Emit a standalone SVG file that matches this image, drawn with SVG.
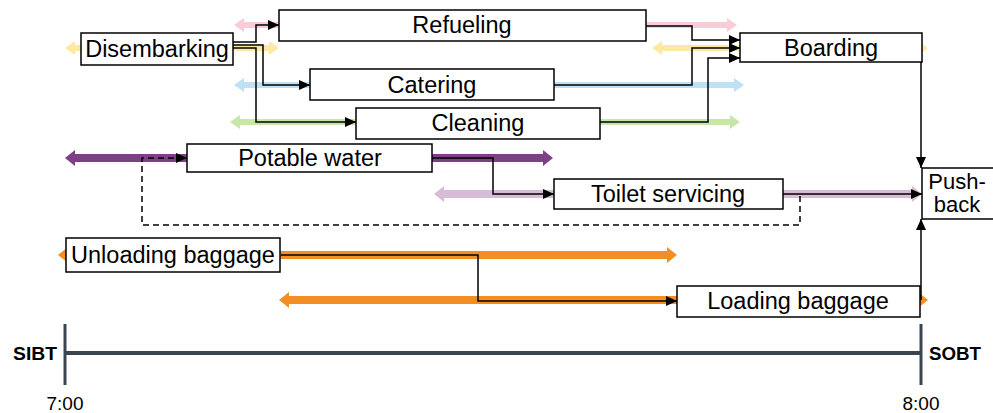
<svg xmlns="http://www.w3.org/2000/svg" width="993" height="413" viewBox="0 0 993 413">
<defs>
<style>
.box{fill:#fff;stroke:#000;stroke-width:1.5}
.lbl{font-family:"Liberation Sans",Arial,sans-serif;font-size:23.5px;fill:#000;text-anchor:middle}
.pb{font-family:"Liberation Sans",Arial,sans-serif;font-size:22px;fill:#000;text-anchor:middle}
.con{fill:none;stroke:#000;stroke-width:1.5;marker-end:url(#ah)}
.dash{fill:none;stroke:#000;stroke-width:1.5;stroke-dasharray:6,4;marker-end:url(#ah)}
.tl{stroke:#3b4550;fill:none}
.tlbl{font-family:"Liberation Sans",Arial,sans-serif;font-size:19px;fill:#000;text-anchor:middle}
</style>
<marker id="ah" markerUnits="userSpaceOnUse" markerWidth="12" markerHeight="10" refX="11" refY="5" orient="auto">
<path d="M0,0 L11,5 L0,10 z" fill="#000"/>
</marker>
</defs>
<rect width="993" height="413" fill="#fff"/>
<g id="bands">
<path fill="#f9cdd8" d="M234,25 L244,18 L244,22 L727,22 L727,18 L737,25 L727,32 L727,28 L244,28 L244,32 z"/>
<path fill="#fde8a4" d="M65,48 L75,41 L75,45 L269,45 L269,41 L279,48 L269,55 L269,51 L75,51 L75,55 z"/>
<path fill="#fde8a4" d="M652,48 L662,41 L662,45 L918,45 L918,41 L928,48 L918,55 L918,51 L662,51 L662,55 z"/>
<path fill="#bfe1f5" d="M234,85 L244,78 L244,82 L734,82 L734,78 L744,85 L734,92 L734,88 L244,88 L244,92 z"/>
<path fill="#c7e6a8" d="M230,122 L240,115 L240,119 L730,119 L730,115 L740,122 L730,129 L730,125 L240,125 L240,129 z"/>
<path fill="#7f3f87" d="M65,158 L75,150 L75,154 L543,154 L543,150 L553,158 L543,166 L543,162 L75,162 L75,166 z"/>
<path fill="#d6bcd6" d="M434,194 L444,186 L444,190 L912,190 L912,186 L922,194 L912,202 L912,198 L444,198 L444,202 z"/>
<path fill="#f28e24" d="M58,255 L68,247 L68,251 L667,251 L667,247 L677,255 L667,263 L667,259 L68,259 L68,263 z"/>
<path fill="#f28e24" d="M279,300 L289,292 L289,296 L918,296 L918,292 L928,300 L918,308 L918,304 L289,304 L289,308 z"/>
</g>
<g id="connectors">
<path class="con" d="M233,42 H256 V25 H279"/>
<path class="con" d="M233,45 H263 V85 H310"/>
<path class="con" d="M233,48 H256 V122 H356"/>
<path class="con" d="M646,26 H692 V40 H740"/>
<path class="con" d="M554,85 H692 V48 H740"/>
<path class="con" d="M600,122 H708 V58 H740"/>
<path class="con" d="M921,48 V168"/>
<path class="con" d="M432,158 H493 V194 H554"/>
<path class="con" d="M783,194 H922"/>
<path class="dash" d="M800,196 V225 H142 V158 H187"/>
<path class="con" d="M281,255 H478 V301 H677"/>
<path class="con" d="M921,300 V219"/>
</g>
<g id="refueling"><rect class="box" x="279" y="10" width="367" height="31"/><text class="lbl" x="462" y="33">Refueling</text></g>
<g id="disembarking"><rect class="box" x="81" y="33" width="152" height="32"/><text class="lbl" x="157" y="57">Disembarking</text></g>
<g id="boarding"><rect class="box" x="740" y="33" width="182" height="29"/><text class="lbl" x="831" y="56">Boarding</text></g>
<g id="catering"><rect class="box" x="310" y="69" width="244" height="31"/><text class="lbl" x="432" y="93">Catering</text></g>
<g id="cleaning"><rect class="box" x="356" y="108" width="244" height="31"/><text class="lbl" x="478" y="131">Cleaning</text></g>
<g id="potable-water"><rect class="box" x="187" y="144" width="245" height="28"/><text class="lbl" x="310" y="166">Potable water</text></g>
<g id="toilet-servicing"><rect class="box" x="554" y="179" width="229" height="30"/><text class="lbl" x="668" y="202">Toilet servicing</text></g>
<g id="push-back"><rect class="box" x="922" y="168" width="75" height="51"/><text class="pb" x="957" y="189">Push-</text><text class="pb" x="957" y="212">back</text></g>
<g id="unloading-baggage"><rect class="box" x="66" y="238" width="214" height="34"/><text class="lbl" x="173" y="263">Unloading baggage</text></g>
<g id="loading-baggage"><rect class="box" x="677" y="286" width="243" height="31"/><text class="lbl" x="798" y="309">Loading baggage</text></g>
<g id="timeline">
<line class="tl" x1="65" y1="353" x2="921" y2="353" stroke-width="4"/>
<line class="tl" x1="65" y1="324" x2="65" y2="385" stroke-width="3"/>
<line class="tl" x1="921" y1="324" x2="921" y2="385" stroke-width="3"/>
<text class="tlbl" x="35" y="360" font-weight="bold" textLength="44" lengthAdjust="spacingAndGlyphs">SIBT</text>
<text class="tlbl" x="955" y="360" font-weight="bold" textLength="52" lengthAdjust="spacingAndGlyphs">SOBT</text>
<text class="tlbl" x="65" y="410">7:00</text>
<text class="tlbl" x="921" y="410">8:00</text>
</g>
</svg>
